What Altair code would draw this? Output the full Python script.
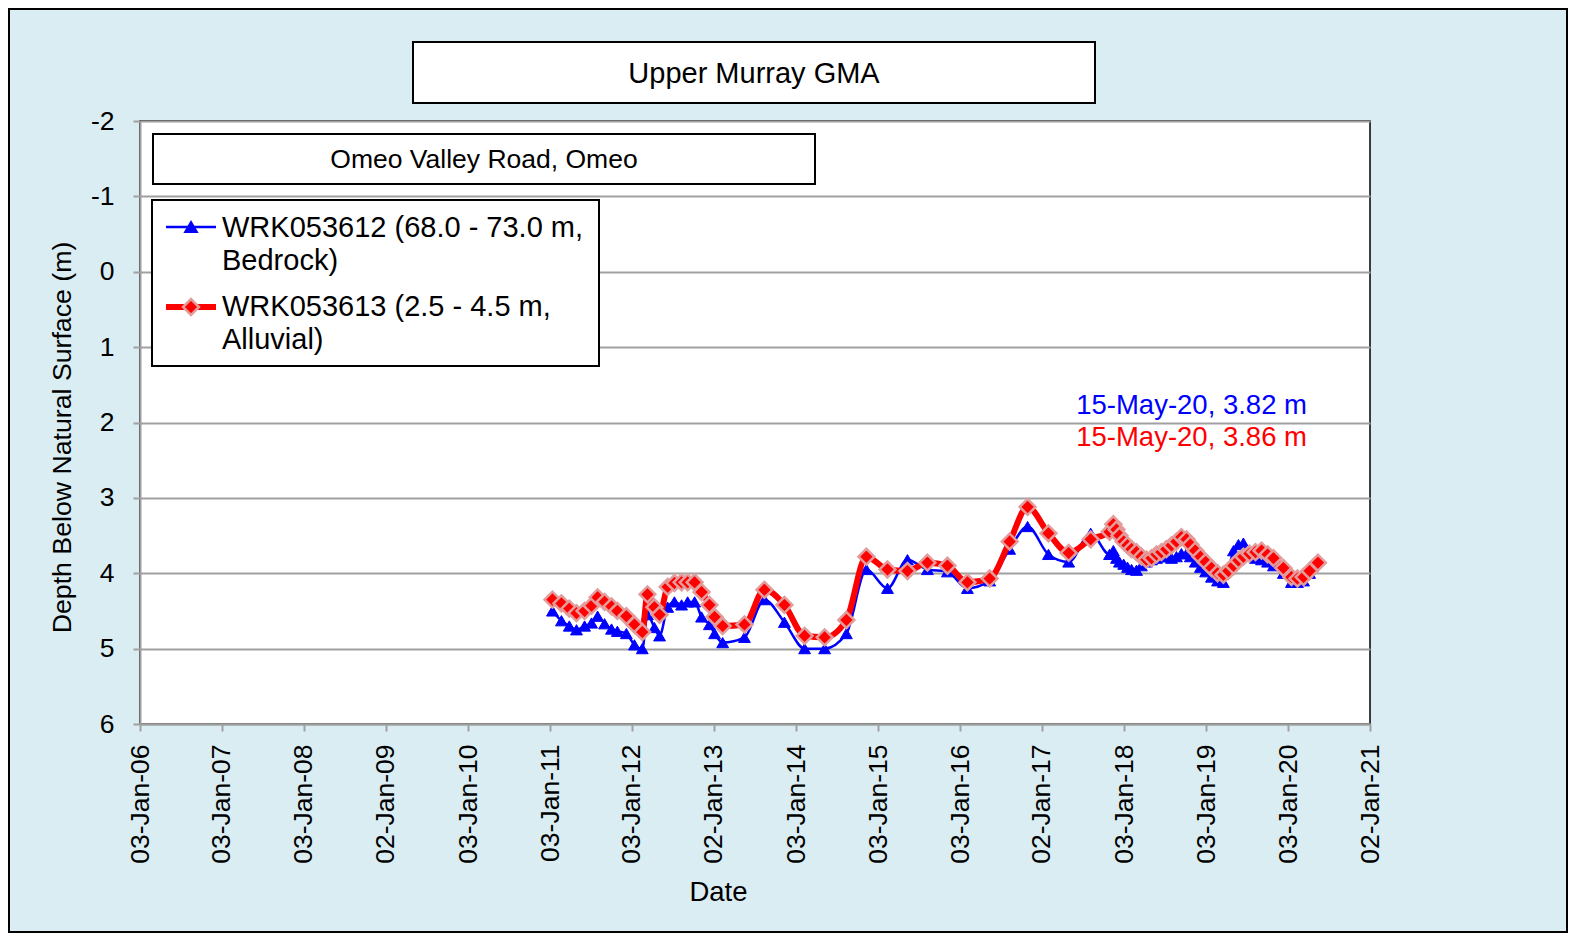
import altair as alt
import pandas as pd

# ---------------- data ----------------
dates = [
    "2011-01-14", "2011-02-23", "2011-03-30", "2011-05-01", "2011-06-06", "2011-07-07",
    "2011-08-03", "2011-09-03", "2011-10-04", "2011-10-30", "2011-12-09",
    "2012-01-14", "2012-02-18", "2012-03-12", "2012-04-12", "2012-05-05", "2012-06-10",
    "2012-07-10", "2012-08-11", "2012-09-07", "2012-10-08", "2012-11-08", "2012-12-13",
    "2013-01-05", "2013-02-10", "2013-05-18", "2013-08-15", "2013-11-12",
    "2014-02-10", "2014-05-10", "2014-08-15", "2014-11-12",
    "2015-02-14", "2015-05-14", "2015-08-11", "2015-11-08",
    "2016-02-05", "2016-05-14", "2016-08-11", "2016-10-30",
    "2017-01-31", "2017-05-01", "2017-08-07", "2017-10-30", "2017-11-16", "2017-11-30", "2017-12-13",
    "2018-01-01", "2018-01-18", "2018-02-05", "2018-02-27", "2018-03-21", "2018-04-12",
    "2018-05-05", "2018-05-27", "2018-06-18", "2018-07-10", "2018-08-02", "2018-08-24",
    "2018-09-15", "2018-10-08", "2018-10-25", "2018-11-16", "2018-12-09",
    "2019-01-01", "2019-01-27", "2019-02-23", "2019-03-21", "2019-04-12", "2019-05-05",
    "2019-05-27", "2019-06-18", "2019-07-15", "2019-08-11", "2019-09-07", "2019-10-04",
    "2019-10-30", "2019-12-13",
    "2020-01-18", "2020-02-14", "2020-03-12", "2020-04-08", "2020-05-15",
]

# WRK053612 (Bedrock) - blue
bedrock = [
    4.50, 4.63, 4.70, 4.75, 4.70, 4.66, 4.57, 4.67, 4.74, 4.77, 4.80,
    4.95, 5.00, 4.55, 4.72, 4.83, 4.45, 4.38, 4.42, 4.38, 4.38, 4.58, 4.68,
    4.80, 4.92, 4.85, 4.35, 4.65,
    5.00, 5.00, 4.80, 3.95,
    4.20, 3.82, 3.95, 3.98,
    4.20, 4.10, 3.68, 3.38,
    3.75, 3.85, 3.47, 3.75, 3.70, 3.80, 3.85,
    3.88, 3.92, 3.95, 3.96, 3.90, 3.85, 3.82, 3.80, 3.78, 3.78, 3.80, 3.78,
    3.74, 3.74, 3.78, 3.85, 3.92,
    3.98, 4.05, 4.10, 4.12, 3.95, 3.70, 3.62, 3.60, 3.70, 3.80, 3.82, 3.85, 3.90, 4.00,
    4.12, 4.12, 4.10, 4.00, 3.82,
]

# WRK053613 (Alluvial) - red
alluvial = [
    4.35, 4.40, 4.47, 4.53, 4.50, 4.43, 4.32, 4.38, 4.44, 4.50, 4.57,
    4.68, 4.78, 4.28, 4.45, 4.55, 4.18, 4.13, 4.12, 4.12, 4.12, 4.25, 4.42,
    4.58, 4.70, 4.68, 4.22, 4.42,
    4.83, 4.85, 4.62, 3.78,
    3.95, 3.97, 3.86, 3.90,
    4.12, 4.07, 3.58, 3.12,
    3.47, 3.73, 3.55, 3.45, 3.35, 3.42, 3.50,
    3.58, 3.63, 3.68, 3.72, 3.78, 3.82, 3.80, 3.75, 3.72, 3.68, 3.63, 3.58,
    3.52, 3.55, 3.62, 3.70, 3.78,
    3.85, 3.93, 4.00, 4.02, 3.97, 3.90, 3.83, 3.78, 3.74, 3.72, 3.70, 3.75, 3.80, 3.93,
    4.05, 4.07, 4.05, 3.97, 3.86,
]

x_tick_dates = [
    "2006-01-03", "2007-01-03", "2008-01-03", "2009-01-02", "2010-01-03", "2011-01-03",
    "2012-01-03", "2013-01-02", "2014-01-03", "2015-01-03", "2016-01-03", "2017-01-02",
    "2018-01-03", "2019-01-03", "2020-01-03", "2021-01-02",
]
y_ticks = [-2, -1, 0, 1, 2, 3, 4, 5, 6]

title_text = "Upper Murray GMA"
subtitle_text = "Omeo Valley Road, Omeo"
legend_lines_blue = ["WRK053612 (68.0 - 73.0 m,", "Bedrock)"]
legend_lines_red = ["WRK053613 (2.5 - 4.5 m,", "Alluvial)"]
note_blue = "15-May-20, 3.82 m"
note_red = "15-May-20, 3.86 m"

FONT = "Liberation Sans"
BLUE = "#0000FF"
RED = "#FF0000"
GRID = "#A0A0A0"

df = pd.DataFrame({"date": dates, "bedrock": bedrock, "alluvial": alluvial})
deco = pd.DataFrame({"k": [0]})


def dt(s):
    y, m, d = map(int, s.split("-"))
    return alt.DateTime(year=y, month=m, date=d, utc=True)


x_enc = alt.X(
    "date:T",
    scale=alt.Scale(type="utc", domain=[dt(x_tick_dates[0]), dt(x_tick_dates[-1])]),
    axis=alt.Axis(
        values=[dt(s) for s in x_tick_dates],
        labelExpr="utcFormat(datum.value, '%d-%b-%y')",
        labelAngle=-90,
        labelFontSize=26.5,
        title="Date",
        titleFontSize=27.5,
        grid=False,
        labelPadding=13,
        titleX=578,
        titleY=168,
        titleBaseline="middle",
        titleAlign="center",
    ),
)

y_scale = alt.Scale(domain=[-2, 6], reverse=True, nice=False, zero=False)
y_axis = alt.Axis(
    values=y_ticks,
    labelExpr="'' + datum.value",
    labelFontSize=26.5,
    title="Depth Below Natural Surface (m)",
    titleFontSize=26.7,
    grid=True,
    gridColor=GRID,
    gridWidth=2,
    labelPadding=19,
    titleX=-78,
    titleY=316,
    titleBaseline="middle",
    titleAlign="center",
)

base = alt.Chart(df)

blue_line = base.mark_line(color=BLUE, strokeWidth=2.5, interpolate="monotone").encode(
    x=x_enc, y=alt.Y("bedrock:Q", scale=y_scale, axis=y_axis)
)
blue_pts = base.mark_point(
    shape="triangle-up", filled=True, fill=BLUE, stroke=BLUE, strokeWidth=1, size=140, opacity=1
).encode(x=x_enc, y=alt.Y("bedrock:Q", scale=y_scale, axis=y_axis))

red_line = base.mark_line(color=RED, strokeWidth=6, interpolate="monotone").encode(
    x=x_enc, y=alt.Y("alluvial:Q", scale=y_scale, axis=y_axis)
)
red_pts = base.mark_point(
    shape="diamond", filled=True, fill=RED, stroke="#E39C9C", strokeWidth=2.5, size=250, opacity=1
).encode(x=x_enc, y=alt.Y("alluvial:Q", scale=y_scale, axis=y_axis))


def box(x1, x2, y1, y2, fill="white", sw=2):
    return alt.Chart(deco).mark_rect(fill=fill, stroke="black", strokeWidth=sw).encode(
        x=alt.value(x1), x2=alt.value(x2), y=alt.value(y1), y2=alt.value(y2)
    )


def label(txt, x, y, size, color="black", align="left"):
    return alt.Chart(deco).mark_text(
        text=txt, font=FONT, fontSize=size, color=color, align=align, baseline="middle"
    ).encode(x=alt.value(x), y=alt.value(y))


outer = alt.Chart(deco).mark_rect(fillOpacity=0, stroke="black", strokeWidth=2).encode(
    x=alt.value(-131), x2=alt.value(1427), y=alt.value(-112), y2=alt.value(811)
)

title_box = box(273, 955, -79, -18)
title_lbl = label(title_text, 614, -47, 29, align="center")
sub_box = box(13, 675, 13, 63)
sub_lbl = label(subtitle_text, 344, 39, 26.5, align="center")
leg_box = box(12, 459, 79, 245)

leg_blue_line = alt.Chart(deco).mark_rule(color=BLUE, strokeWidth=2.5).encode(
    x=alt.value(26), x2=alt.value(76), y=alt.value(106)
)
leg_blue_pt = alt.Chart(deco).mark_point(
    shape="triangle-up", filled=True, fill=BLUE, stroke=BLUE, size=140, opacity=1
).encode(x=alt.value(51), y=alt.value(106))
leg_red_line = alt.Chart(deco).mark_rule(color=RED, strokeWidth=6).encode(
    x=alt.value(26), x2=alt.value(76), y=alt.value(186)
)
leg_red_pt = alt.Chart(deco).mark_point(
    shape="diamond", filled=True, fill=RED, stroke="#E39C9C", strokeWidth=2.5, size=250, opacity=1
).encode(x=alt.value(51), y=alt.value(186))

LEG_FS = 29
leg_t1 = label(legend_lines_blue[0], 82, 107, LEG_FS)
leg_t2 = label(legend_lines_blue[1], 82, 140, LEG_FS)
leg_t3 = label(legend_lines_red[0], 82, 186, LEG_FS)
leg_t4 = label(legend_lines_red[1], 82, 219, LEG_FS)

note_b = label(note_blue, 1167, 285, 27.5, color=BLUE, align="right")
note_r = label(note_red, 1167, 317, 27.5, color=RED, align="right")

chart = alt.layer(
    blue_line, blue_pts, red_line, red_pts,
    outer, title_box, title_lbl, sub_box, sub_lbl, leg_box,
    leg_blue_line, leg_blue_pt, leg_red_line, leg_red_pt,
    leg_t1, leg_t2, leg_t3, leg_t4, note_b, note_r,
).properties(
    width=1230,
    height=603,
    padding={"left": 132, "top": 113, "right": 198, "bottom": 209},
    autosize=alt.AutoSizeParams(type="none"),
    background="#DAEDF2",
).configure_view(
    stroke="black", strokeWidth=1.5, fill="white"
).configure_axis(
    labelFont=FONT, titleFont=FONT,
    labelColor="black", titleColor="black", titleFontWeight="normal",
    tickColor=GRID, tickSize=7, tickWidth=2, domainColor=GRID, domainWidth=2,
)

chart.save("out.html", embed_options={"renderer": "svg", "actions": False})
